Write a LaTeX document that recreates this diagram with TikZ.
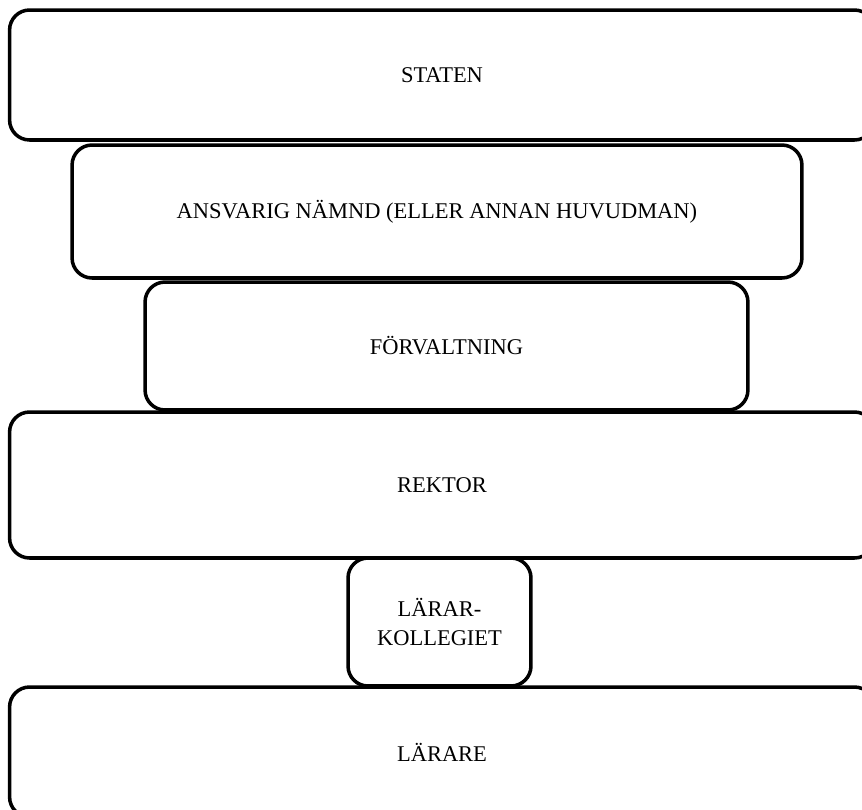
\documentclass[tikz,border=0pt]{standalone}
\usepackage{fontspec}
\setmainfont{Liberation Serif}
\begin{document}
\begin{tikzpicture}[x=0.02cm,y=-0.02cm,
    box/.style={draw,line width=2pt,rounded corners=0.4cm,align=center,
      font=\fontsize{12.8}{16}\selectfont,inner sep=0pt}]
        \useasboundingbox (0,0) rectangle (862,809);
        
        \node[box,minimum width=17.3cm,minimum height=2.6cm] (staten) at (442,75) {STATEN};
        \node[box,minimum width=14.6cm,minimum height=2.66cm] (namnd) at (437,211.5) {ANSVARIG NÄMND (ELLER ANNAN HUVUDMAN)};
        \node[box,minimum width=12.06cm,minimum height=2.56cm] (forv) at (446.5,346) {FÖRVALTNING};
        \node[box,minimum width=17.3cm,minimum height=2.92cm] (rektor) at (442,485) {REKTOR};
        \node[box,minimum width=3.66cm,minimum height=2.56cm] (kollegiet) at (439.5,622) {LÄRAR-\\KOLLEGIET};
        \node[box,minimum width=17.3cm,minimum height=2.6cm] (larare) at (442,752) {LÄRARE};
        \end{tikzpicture}
\end{document}
